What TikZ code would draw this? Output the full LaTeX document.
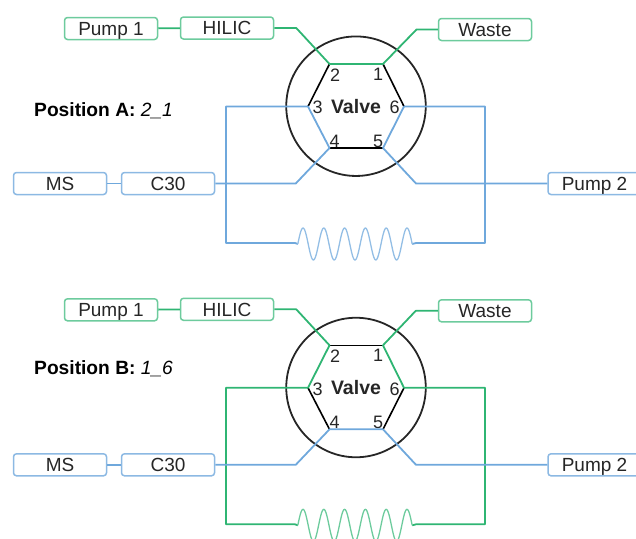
\documentclass[tikz,border=0pt]{standalone}
\usepackage{fontspec}
\setmainfont{Liberation Sans}
\usepackage{xcolor}
\definecolor{hplcgreen}{HTML}{2FB573}
\definecolor{hplcblue}{HTML}{6FA8DC}
\definecolor{inkgrey}{HTML}{262626}

\begin{document}
\begin{tikzpicture}[
  x=1pt, y=-1pt,
  greenbox/.style={rectangle, draw=hplcgreen!70, fill=white, rounded corners=3pt, line width=1.5pt, minimum width=93pt, minimum height=22pt, inner sep=0pt, text height=13.6pt, text depth=0pt, align=center, font=\fontsize{19}{20}\selectfont, text=inkgrey},
  bluebox/.style={greenbox, draw=hplcblue!80},
  valve/.style={circle, draw=inkgrey, line width=1.8pt, minimum size=139.5pt, inner sep=0pt, text=inkgrey, font=\fontsize{19.5}{20}\selectfont\bfseries},
  port/.style={inner sep=0pt, text=inkgrey, font=\fontsize{18}{20}\selectfont},
  title/.style={anchor=base west, inner sep=0pt, text=black, font=\fontsize{19.2}{20}\selectfont},
  hexline/.style={draw=black, line width=1.6pt, line join=round},
  greenline/.style={draw=hplcgreen, line width=1.8pt, line join=round},
  blueline/.style={draw=hplcblue, line width=1.8pt, line join=round},
  coil/.style={line width=1.3pt, samples=150, smooth, domain=297.8:412.2}
]
  \clip (0,0) rectangle (636,538);
  \useasboundingbox (0,0) rectangle (636,538);

  % position A
  \node[title] (titleA) at (34,116.5) {\textbf{Position A:} \textit{2\_1}};
  \node[valve] (valveA) at (356,106.2) {Valve};
  \coordinate (p1A) at (383,64);
  \coordinate (p2A) at (329.5,64);
  \coordinate (p3A) at (308,106.5);
  \coordinate (p4A) at (329.5,148);
  \coordinate (p5A) at (383,148);
  \coordinate (p6A) at (404,106.5);
  \coordinate (coilinA) at (295,243);
  \coordinate (coiloutA) at (416,243);
  \node[port] (n1A) at (378,74.5) {1};
  \node[port] (n2A) at (335,75) {2};
  \node[port] (n3A) at (317.5,107.5) {3};
  \node[port] (n4A) at (334.5,141) {4};
  \node[port] (n5A) at (378,141) {5};
  \node[port] (n6A) at (394.5,107.5) {6};
  \node[greenbox] (pumpA) at (111,28.5) {Pump 1};
  \node[greenbox] (hilicA) at (227,28) {HILIC};
  \node[greenbox] (wasteA) at (485,29.5) {Waste};
  \node[bluebox] (msA) at (60,183.5) {MS};
  \node[bluebox] (c30A) at (168,183.5) {C30};
  \node[bluebox] (pumptwoA) at (594.5,183.5) {Pump 2};
  \draw[hexline] (p2A) -- (p3A);
  \draw[hexline] (p1A) -- (p6A);
  \draw[hexline] (p4A) -- (p5A);
  \draw[greenline] (pumpA) -- (hilicA);
  \draw[greenline] (hilicA.east) -- ++(22,0) -- (p2A) -- (p1A) -- ++(33.5,-34.5) -- (wasteA.west);
  \draw[blueline] (msA) -- (c30A);
  \draw[blueline] (c30A.east) -- ++(80.5,0) -- (p4A) -- (p3A) -- ++(-82,0) |- (coilinA) -- (297.8,244);
  \draw[blueline] (p6A) -- (p5A) -- ++(33,35.5) -- (pumptwoA.west);
  \draw[blueline] (p6A) -- ++(81,0) |- (coiloutA) -- (412.2,244);
  \draw[coil, hplcblue!75] plot (\x,{244-16*sin((\x-297.8)/20.8*360)});

  % position B
  \begin{scope}[shift={(0,281.3)}]
    \node[valve] (valveB) at (356,106.2) {Valve};
    \coordinate (p1B) at (383,64);
    \coordinate (p2B) at (329.5,64);
    \coordinate (p3B) at (308,106.5);
    \coordinate (p4B) at (329.5,148);
    \coordinate (p5B) at (383,148);
    \coordinate (p6B) at (404,106.5);
    \coordinate (coilinB) at (295,243);
    \coordinate (coiloutB) at (416,243);
    \node[port] (n1B) at (378,74.5) {1};
    \node[port] (n2B) at (335,75) {2};
    \node[port] (n3B) at (317.5,107.5) {3};
    \node[port] (n4B) at (334.5,141) {4};
    \node[port] (n5B) at (378,141) {5};
    \node[port] (n6B) at (394.5,107.5) {6};
    \node[greenbox] (pumpB) at (111,28.5) {Pump 1};
    \node[greenbox] (hilicB) at (227,28) {HILIC};
    \node[greenbox] (wasteB) at (485,29.5) {Waste};
    \node[bluebox] (msB) at (60,183.5) {MS};
    \node[bluebox] (c30B) at (168,183.5) {C30};
    \node[bluebox] (pumptwoB) at (594.5,183.5) {Pump 2};
    \draw[hexline] (p2B) -- (p1B);
    \draw[hexline] (p3B) -- (p4B);
    \draw[hexline] (p5B) -- (p6B);
    \draw[greenline] (pumpB) -- (hilicB);
    \draw[greenline] (hilicB.east) -- ++(22,0) -- (p2B) -- (p3B) -- ++(-82,0) |- (coilinB) -- (297.8,244);
    \draw[greenline] (wasteB.west) -- ++(-22,0) -- (p1B) -- (p6B) -- ++(81,0) |- (coiloutB) -- (412.2,244);
    \draw[blueline] (msB) -- (c30B);
    \draw[blueline] (c30B.east) -- ++(80.5,0) -- (p4B) -- (p5B) -- ++(33,35.5) -- (pumptwoB.west);
    \draw[coil, hplcgreen!70] plot (\x,{244-16*sin((\x-297.8)/20.8*360)});
  \end{scope}
  \node[title] (titleB) at (34,374.5) {\textbf{Position B:} \textit{1\_6}};
\end{tikzpicture}
\end{document}
